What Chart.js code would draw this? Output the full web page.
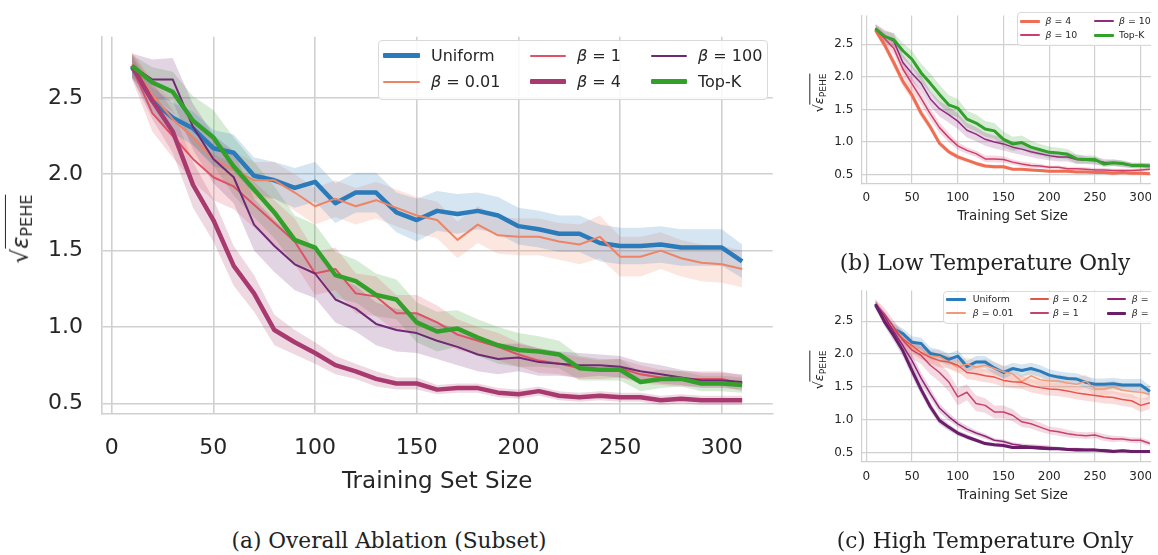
<!DOCTYPE html>
<html>
<head>
<meta charset="utf-8">
<script src="https://cdn.jsdelivr.net/npm/chart.js@4.4.1/dist/chart.umd.min.js"></script>
<style>
  body { margin: 0; background: #fff; width: 1158px; height: 555px; overflow: hidden; position: relative;
         font-family: "DejaVu Sans", sans-serif; color: #262626; }
  .pane { position: absolute; overflow: hidden; }
  .pane canvas { position: absolute; left: 0; top: 0; }
  .legend { position: absolute; background: rgba(255,255,255,0.85); border: 1px solid #d9d9d9;
            border-radius: 4px; box-sizing: border-box; }
  .legend .ln { position: absolute; border-radius: 1px; }
  .legend .tx { position: absolute; transform: translateY(-50%); line-height: 1; white-space: nowrap; color: #262626; }
  .ytitle { position: absolute; transform: translate(-50%, -50%) rotate(-90deg); white-space: nowrap; line-height: 1; }
  .ytitle .ov { border-top: 1.5px solid #262626; padding-top: 1px; font-style: italic; }
  .ytitle sub { font-style: normal; font-size: 0.7em; vertical-align: -0.25em; }
  .cap { position: absolute; transform: translateX(-50%); white-space: nowrap; font-family: "DejaVu Serif", serif;
         color: #222; line-height: 1; }
</style>
</head>
<body>
<div class="pane" id="paneA" style="left:0;top:0;width:800px;height:520px"><canvas id="chartA" width="800" height="520"></canvas></div>
<div class="pane" id="paneB" style="left:780px;top:0;width:371px;height:230px"><canvas id="chartB" width="400" height="230"></canvas></div>
<div class="pane" id="paneC" style="left:780px;top:275px;width:371px;height:235px"><canvas id="chartC" width="400" height="235"></canvas></div>

<div class="ytitle" style="left:22px;top:229px;font-size:23px">√<span class="ov">ε<sub>PEHE</sub></span></div>
<div class="ytitle" style="left:820px;top:93px;font-size:13px">√<span class="ov">ε<sub>PEHE</sub></span></div>
<div class="ytitle" style="left:820px;top:370px;font-size:13px">√<span class="ov">ε<sub>PEHE</sub></span></div>

<div class="cap" style="left:389px;top:530px;font-size:21.7px">(a) Overall Ablation (Subset)</div>
<div class="cap" style="left:985px;top:252px;font-size:21.7px">(b) Low Temperature Only</div>
<div class="cap" style="left:985px;top:530px;font-size:21.7px">(c) High Temperature Only</div>

<script>
// training set sizes shared by all three panels
const trainSizes = [10, 20, 30, 40, 50, 60, 70, 80, 90, 100, 110, 120, 130, 140, 150, 160,
                    170, 180, 190, 200, 210, 220, 230, 240, 250, 260, 270, 280, 290, 300, 310];
const xTicks = [0, 50, 100, 150, 200, 250, 300];
const yTicks = [0.5, 1.0, 1.5, 2.0, 2.5];

// (a) overall ablation - means and half width of the shaded band
const overallUniform = [2.70, 2.48, 2.37, 2.30, 2.17, 2.14, 1.99, 1.96, 1.91, 1.95, 1.81, 1.88, 1.88, 1.75, 1.70, 1.76,
                        1.74, 1.76, 1.73, 1.66, 1.64, 1.61, 1.61, 1.55, 1.53, 1.53, 1.54, 1.52, 1.52, 1.52, 1.43];
const overallB001 = [2.72, 2.52, 2.36, 2.24, 2.10, 2.03, 1.96, 1.96, 1.88, 1.79, 1.84, 1.79, 1.83, 1.78, 1.73, 1.70,
                     1.57, 1.67, 1.60, 1.59, 1.59, 1.56, 1.54, 1.59, 1.46, 1.46, 1.50, 1.45, 1.42, 1.41, 1.38];
const overallB1 = [2.70, 2.40, 2.25, 2.10, 1.98, 1.92, 1.80, 1.68, 1.56, 1.35, 1.38, 1.22, 1.20, 1.09, 1.09, 1.03,
                   0.95, 0.91, 0.87, 0.82, 0.78, 0.76, 0.73, 0.72, 0.73, 0.69, 0.67, 0.66, 0.66, 0.66, 0.63];
const overallB4 = [2.71, 2.48, 2.28, 1.93, 1.70, 1.40, 1.22, 0.98, 0.90, 0.83, 0.75, 0.71, 0.66, 0.63, 0.63, 0.59,
                   0.60, 0.60, 0.57, 0.56, 0.58, 0.55, 0.54, 0.55, 0.54, 0.54, 0.52, 0.53, 0.52, 0.52, 0.52];
const overallB100 = [2.71, 2.62, 2.62, 2.31, 2.10, 1.98, 1.67, 1.53, 1.41, 1.35, 1.18, 1.12, 1.02, 0.98, 0.96, 0.91,
                     0.87, 0.82, 0.79, 0.80, 0.77, 0.76, 0.75, 0.75, 0.74, 0.71, 0.69, 0.67, 0.65, 0.65, 0.64];
const overallTopK = [2.71, 2.60, 2.54, 2.35, 2.24, 2.05, 1.90, 1.75, 1.57, 1.52, 1.34, 1.30, 1.21, 1.18, 1.03, 0.97,
                     0.99, 0.93, 0.88, 0.85, 0.84, 0.82, 0.73, 0.72, 0.72, 0.64, 0.66, 0.66, 0.63, 0.63, 0.62];
const overallUniformCi = [0.07, 0.09, 0.10, 0.11, 0.12, 0.12, 0.12, 0.12, 0.13, 0.13, 0.13, 0.13, 0.13, 0.13, 0.14, 0.13,
                          0.13, 0.12, 0.12, 0.12, 0.12, 0.12, 0.12, 0.12, 0.12, 0.12, 0.12, 0.12, 0.12, 0.12, 0.11];
const overallB001Ci = [0.08, 0.10, 0.11, 0.12, 0.12, 0.12, 0.12, 0.12, 0.12, 0.12, 0.12, 0.12, 0.12, 0.12, 0.12, 0.12,
                       0.12, 0.12, 0.12, 0.12, 0.12, 0.12, 0.13, 0.14, 0.13, 0.13, 0.12, 0.12, 0.12, 0.12, 0.12];
const overallB1Ci = [0.08, 0.12, 0.14, 0.15, 0.15, 0.15, 0.15, 0.15, 0.15, 0.14, 0.14, 0.13, 0.13, 0.12, 0.12, 0.11,
                     0.10, 0.09, 0.09, 0.08, 0.08, 0.07, 0.07, 0.06, 0.06, 0.06, 0.05, 0.05, 0.05, 0.05, 0.05];
const overallB4Ci = [0.08, 0.12, 0.14, 0.15, 0.14, 0.13, 0.12, 0.10, 0.08, 0.07, 0.06, 0.05, 0.05, 0.04, 0.04, 0.03,
                     0.03, 0.03, 0.03, 0.03, 0.03, 0.03, 0.03, 0.03, 0.03, 0.03, 0.03, 0.03, 0.03, 0.03, 0.03];
const overallB100Ci = [0.08, 0.13, 0.14, 0.15, 0.16, 0.17, 0.17, 0.17, 0.17, 0.16, 0.15, 0.15, 0.14, 0.14, 0.13, 0.12,
                       0.12, 0.11, 0.10, 0.09, 0.09, 0.08, 0.08, 0.07, 0.07, 0.06, 0.06, 0.05, 0.05, 0.05, 0.05];
const overallTopKCi = [0.07, 0.10, 0.13, 0.16, 0.18, 0.19, 0.18, 0.17, 0.16, 0.15, 0.15, 0.14, 0.14, 0.13, 0.13, 0.13,
                       0.12, 0.12, 0.12, 0.11, 0.10, 0.09, 0.08, 0.07, 0.07, 0.06, 0.06, 0.05, 0.05, 0.05, 0.05];

// (b) low temperature only
const lowB4 = [2.72, 2.49, 2.22, 1.93, 1.72, 1.44, 1.23, 0.98, 0.85, 0.77, 0.72, 0.67, 0.63, 0.62, 0.62, 0.58,
               0.58, 0.57, 0.56, 0.55, 0.55, 0.55, 0.54, 0.54, 0.53, 0.53, 0.52, 0.53, 0.52, 0.52, 0.51];
const lowB10 = [2.74, 2.59, 2.44, 2.12, 1.89, 1.67, 1.43, 1.22, 1.07, 0.94, 0.87, 0.82, 0.74, 0.74, 0.73, 0.69,
                0.66, 0.64, 0.63, 0.61, 0.61, 0.59, 0.59, 0.58, 0.57, 0.57, 0.56, 0.56, 0.56, 0.57, 0.58];
const lowB100 = [2.74, 2.62, 2.55, 2.22, 2.05, 1.90, 1.66, 1.51, 1.42, 1.32, 1.18, 1.12, 1.04, 1.00, 0.97, 0.92,
                 0.89, 0.85, 0.82, 0.79, 0.77, 0.77, 0.73, 0.72, 0.71, 0.69, 0.68, 0.66, 0.64, 0.64, 0.64];
const lowTopK = [2.74, 2.62, 2.57, 2.40, 2.27, 2.06, 1.90, 1.73, 1.57, 1.52, 1.35, 1.29, 1.20, 1.17, 1.04, 0.97,
                 0.99, 0.92, 0.88, 0.84, 0.83, 0.81, 0.74, 0.73, 0.73, 0.66, 0.68, 0.67, 0.64, 0.64, 0.63];
const lowB4Ci = [0.06, 0.07, 0.08, 0.08, 0.08, 0.07, 0.06, 0.05, 0.04, 0.04, 0.03, 0.03, 0.03, 0.03, 0.03, 0.02,
                 0.02, 0.02, 0.02, 0.02, 0.02, 0.02, 0.02, 0.02, 0.02, 0.02, 0.02, 0.02, 0.02, 0.02, 0.02];
const lowB10Ci = [0.06, 0.08, 0.09, 0.10, 0.10, 0.10, 0.09, 0.08, 0.07, 0.06, 0.05, 0.05, 0.05, 0.05, 0.05, 0.04,
                  0.04, 0.04, 0.03, 0.03, 0.03, 0.03, 0.03, 0.03, 0.03, 0.03, 0.03, 0.03, 0.03, 0.03, 0.03];
const lowB100Ci = [0.07, 0.10, 0.12, 0.12, 0.12, 0.12, 0.12, 0.12, 0.12, 0.12, 0.11, 0.11, 0.10, 0.10, 0.10, 0.09,
                   0.09, 0.08, 0.08, 0.07, 0.07, 0.07, 0.07, 0.06, 0.06, 0.05, 0.05, 0.05, 0.04, 0.04, 0.04];
const lowTopKCi = [0.07, 0.08, 0.10, 0.12, 0.13, 0.14, 0.15, 0.15, 0.15, 0.14, 0.13, 0.13, 0.12, 0.12, 0.12, 0.11,
                   0.11, 0.10, 0.09, 0.09, 0.08, 0.08, 0.07, 0.06, 0.06, 0.05, 0.05, 0.05, 0.04, 0.04, 0.04];

// (c) high temperature only
const highUniform = [2.74, 2.54, 2.38, 2.31, 2.18, 2.16, 2.01, 1.98, 1.92, 1.97, 1.81, 1.88, 1.88, 1.79, 1.72, 1.78,
                     1.75, 1.78, 1.74, 1.68, 1.65, 1.63, 1.62, 1.57, 1.54, 1.54, 1.55, 1.53, 1.53, 1.53, 1.43];
const highB001 = [2.76, 2.55, 2.40, 2.25, 2.08, 2.03, 1.97, 1.96, 1.88, 1.80, 1.85, 1.80, 1.83, 1.78, 1.73, 1.70,
                  1.58, 1.67, 1.61, 1.59, 1.59, 1.56, 1.54, 1.59, 1.47, 1.47, 1.50, 1.45, 1.43, 1.42, 1.39];
const highB02 = [2.76, 2.52, 2.36, 2.23, 2.13, 2.02, 1.95, 1.90, 1.88, 1.83, 1.72, 1.70, 1.67, 1.65, 1.60, 1.58,
                 1.57, 1.52, 1.49, 1.47, 1.46, 1.44, 1.41, 1.39, 1.37, 1.35, 1.34, 1.31, 1.29, 1.22, 1.26];
const highB1 = [2.76, 2.61, 2.41, 2.21, 2.06, 1.98, 1.83, 1.72, 1.58, 1.35, 1.42, 1.25, 1.22, 1.12, 1.12, 1.07,
                0.97, 0.94, 0.89, 0.84, 0.82, 0.79, 0.77, 0.76, 0.77, 0.73, 0.71, 0.71, 0.69, 0.69, 0.64];
const highB2 = [2.76, 2.57, 2.34, 2.13, 1.90, 1.63, 1.40, 1.18, 1.05, 0.94, 0.86, 0.80, 0.75, 0.69, 0.67, 0.63,
                0.61, 0.60, 0.59, 0.58, 0.57, 0.56, 0.56, 0.55, 0.55, 0.54, 0.53, 0.53, 0.52, 0.52, 0.52];
const highB4 = [2.76, 2.49, 2.28, 2.05, 1.75, 1.46, 1.20, 0.99, 0.89, 0.80, 0.74, 0.69, 0.64, 0.62, 0.61, 0.58,
                0.58, 0.58, 0.57, 0.56, 0.56, 0.55, 0.54, 0.54, 0.54, 0.53, 0.52, 0.53, 0.52, 0.52, 0.52];
const highUniformCi = [0.06, 0.07, 0.08, 0.08, 0.09, 0.09, 0.09, 0.09, 0.09, 0.09, 0.09, 0.09, 0.09, 0.09, 0.09, 0.09,
                       0.09, 0.09, 0.09, 0.09, 0.09, 0.09, 0.09, 0.09, 0.09, 0.09, 0.09, 0.09, 0.09, 0.09, 0.09];
const highB001Ci = [0.07, 0.08, 0.09, 0.10, 0.10, 0.10, 0.10, 0.10, 0.10, 0.10, 0.10, 0.10, 0.10, 0.10, 0.10, 0.10,
                    0.10, 0.10, 0.10, 0.10, 0.10, 0.10, 0.10, 0.10, 0.10, 0.10, 0.10, 0.10, 0.10, 0.10, 0.10];
const highB02Ci = [0.07, 0.08, 0.09, 0.10, 0.10, 0.10, 0.10, 0.10, 0.10, 0.10, 0.10, 0.10, 0.10, 0.10, 0.10, 0.10,
                   0.10, 0.10, 0.10, 0.10, 0.10, 0.10, 0.10, 0.10, 0.10, 0.10, 0.10, 0.10, 0.10, 0.10, 0.10];
const highB1Ci = [0.07, 0.09, 0.10, 0.12, 0.13, 0.13, 0.14, 0.14, 0.14, 0.13, 0.12, 0.12, 0.11, 0.10, 0.10, 0.09,
                  0.08, 0.07, 0.07, 0.06, 0.06, 0.06, 0.05, 0.05, 0.05, 0.05, 0.05, 0.04, 0.04, 0.04, 0.04];
const highB2Ci = [0.06, 0.07, 0.08, 0.09, 0.09, 0.09, 0.08, 0.07, 0.06, 0.05, 0.05, 0.04, 0.04, 0.03, 0.03, 0.03,
                  0.03, 0.03, 0.03, 0.03, 0.02, 0.02, 0.02, 0.02, 0.02, 0.02, 0.02, 0.02, 0.02, 0.02, 0.02];
const highB4Ci = [0.06, 0.07, 0.08, 0.09, 0.09, 0.08, 0.07, 0.06, 0.05, 0.04, 0.04, 0.03, 0.03, 0.03, 0.03, 0.02,
                  0.02, 0.02, 0.02, 0.02, 0.02, 0.02, 0.02, 0.02, 0.02, 0.02, 0.02, 0.02, 0.02, 0.02, 0.02];

const BLUE = '#2b7bba', GREEN = '#33a02c';

function rgba(hex, a) {
  const n = parseInt(hex.slice(1), 16);
  return `rgba(${n >> 16},${(n >> 8) & 255},${n & 255},${a})`;
}

function buildDatasets(series) {
  const sets = [];
  const n = series.length;
  series.forEach((s, i) => {
    sets.push({ data: trainSizes.map((x, k) => ({ x, y: s.values[k] })), borderColor: s.color,
                borderWidth: s.width, pointRadius: 0, fill: false, order: n - 1 - i });
  });
  // shaded bands go under every line
  series.forEach(s => {
    sets.push({ data: trainSizes.map((x, k) => ({ x, y: s.values[k] - s.ci[k] })), borderWidth: 0,
                pointRadius: 0, fill: false, order: 50 });
    sets.push({ data: trainSizes.map((x, k) => ({ x, y: s.values[k] + s.ci[k] })), borderWidth: 0,
                pointRadius: 0, fill: '-1', backgroundColor: rgba(s.color, 0.2), order: 50 });
  });
  return sets;
}

function makeChart(id, series, o) {
  const grid = { color: '#d0d0d0', lineWidth: o.grid, drawTicks: false };
  const border = { display: true, color: '#d0d0d0', width: o.grid };
  new Chart(document.getElementById(id), {
    type: 'line',
    data: { datasets: buildDatasets(series) },
    options: {
      responsive: false, animation: false, devicePixelRatio: 1,
      layout: { padding: { top: o.top, right: o.right, left: 0, bottom: 0 } },
      elements: { line: { tension: 0, borderJoinStyle: 'round', borderCapStyle: 'butt' } },
      plugins: { legend: { display: false }, tooltip: { enabled: false } },
      scales: {
        x: { type: 'linear', min: -5, max: 325, grid, border,
             afterBuildTicks: s => { s.ticks = xTicks.map(v => ({ value: v })); },
             afterFit: s => { s.height = o.xh; },
             ticks: { color: '#262626', font: { family: 'DejaVu Sans', size: o.tick }, padding: o.xpad,
                      maxRotation: 0, autoSkip: false, callback: v => String(v) },
             title: { display: true, text: 'Training Set Size', color: '#262626',
                      font: { family: 'DejaVu Sans', size: o.title }, padding: { top: 0, bottom: o.tpad } } },
        y: { type: 'linear', min: o.ymin, max: o.ymax, grid, border,
             afterBuildTicks: s => { s.ticks = yTicks.map(v => ({ value: v })); },
             afterFit: s => { s.width = o.yw; },
             ticks: { color: '#262626', font: { family: 'DejaVu Sans', size: o.tick }, padding: o.ypad,
                      autoSkip: false, callback: v => Number(v).toFixed(1) } }
      }
    }
  });
}

function makeLegend(parent, off, box, cols, rows, series, font) {
  const el = document.createElement('div');
  el.className = 'legend';
  Object.assign(el.style, { left: (box.x - off.x) + 'px', top: (box.y - off.y) + 'px',
                            width: box.w + 'px', height: box.h + 'px' });
  parent.appendChild(el);
  series.forEach((s, i) => {
    const c = cols[Math.floor(i / rows.length)];
    const r = rows[i % rows.length];
    const h = Math.max(2, Math.round(s.width));
    const ln = document.createElement('div');
    ln.className = 'ln';
    Object.assign(ln.style, { left: Math.round(c.line - box.x - 1) + 'px',
                              top: Math.round(r - box.y - 1 - h / 2) + 'px',
                              width: c.len + 'px', height: h + 'px', background: s.color });
    el.appendChild(ln);
    const tx = document.createElement('div');
    tx.className = 'tx';
    tx.innerHTML = s.label.replace('β', '<i>β</i>');
    Object.assign(tx.style, { left: (c.text - box.x - 1) + 'px', top: (r - box.y - 1) + 'px', fontSize: font + 'px' });
    el.appendChild(tx);
  });
}

// ---- (a) ----
const seriesA = [
  { label: 'Uniform',  values: overallUniform, ci: overallUniformCi, color: BLUE,      width: 4.5 },
  { label: 'β = 0.01', values: overallB001,    ci: overallB001Ci,    color: '#ee8466', width: 2 },
  { label: 'β = 1',    values: overallB1,      ci: overallB1Ci,      color: '#dd5264', width: 2 },
  { label: 'β = 4',    values: overallB4,      ci: overallB4Ci,      color: '#a83a70', width: 4.5 },
  { label: 'β = 100',  values: overallB100,    ci: overallB100Ci,    color: '#6e2a74', width: 2 },
  { label: 'Top-K',    values: overallTopK,    ci: overallTopKCi,    color: GREEN,     width: 4.5 }
];
makeChart('chartA', seriesA, { top: 36.7, right: 27.3, yw: 101.5, xh: 106.7, ymin: 0.435, ymax: 2.9,
                               tick: 22, title: 23, xpad: 21.5, ypad: 18.5, tpad: 24, grid: 1.6 });
makeLegend(document.body, { x: 0, y: 0 }, { x: 378, y: 40, w: 390, h: 60 },
           [{ line: 383, len: 37, text: 431 }, { line: 530, len: 36, text: 577 }, { line: 651, len: 36, text: 698 }],
           [55.7, 81.7], seriesA, 16);

// ---- (b) ----
const seriesB = [
  { label: 'β = 4',   values: lowB4,   ci: lowB4Ci,   color: '#ef6d52', width: 3 },
  { label: 'β = 10',  values: lowB10,  ci: lowB10Ci,  color: '#cf3d6b', width: 1.5 },
  { label: 'β = 100', values: lowB100, ci: lowB100Ci, color: '#8e2c7e', width: 1.5 },
  { label: 'Top-K',   values: lowTopK, ci: lowTopKCi, color: GREEN,     width: 3 }
];
makeChart('chartB', seriesB, { top: 11.7, right: 16.4, yw: 81.7, xh: 46.7, ymin: 0.365, ymax: 2.94,
                               tick: 12, title: 13.4, xpad: 7.8, ypad: 8.4, tpad: 5.3, grid: 1.2 });
makeLegend(document.getElementById('paneB'), { x: 780, y: 0 }, { x: 1017, y: 12, w: 150, h: 34 },
           [{ line: 1020, len: 20, text: 1045.5 }, { line: 1094, len: 20, text: 1119 }],
           [21, 35], seriesB, 9.4);

// ---- (c) ----
const seriesC = [
  { label: 'Uniform',  values: highUniform, ci: highUniformCi, color: BLUE,      width: 3 },
  { label: 'β = 0.01', values: highB001,    ci: highB001Ci,    color: '#f29a78', width: 1.5 },
  { label: 'β = 0.2',  values: highB02,     ci: highB02Ci,     color: '#e8534c', width: 1.5 },
  { label: 'β = 1',    values: highB1,      ci: highB1Ci,      color: '#c6416e', width: 1.5 },
  { label: 'β = 2',    values: highB2,      ci: highB2Ci,      color: '#902473', width: 1.5 },
  { label: 'β = 4',    values: highB4,      ci: highB4Ci,      color: '#6a1d69', width: 3 }
];
makeChart('chartC', seriesC, { top: 15, right: 16.4, yw: 81.7, xh: 48.3, ymin: 0.364, ymax: 2.965,
                               tick: 12, title: 13.4, xpad: 8.4, ypad: 8.4, tpad: 6.7, grid: 1.2 });
makeLegend(document.getElementById('paneC'), { x: 780, y: 275 }, { x: 943, y: 291, w: 230, h: 33 },
           [{ line: 946, len: 20, text: 972.7 }, { line: 1030, len: 19, text: 1053 }, { line: 1106.7, len: 19, text: 1131.7 }],
           [299.3, 313.3], seriesC, 9.4);
</script>
</body>
</html>
